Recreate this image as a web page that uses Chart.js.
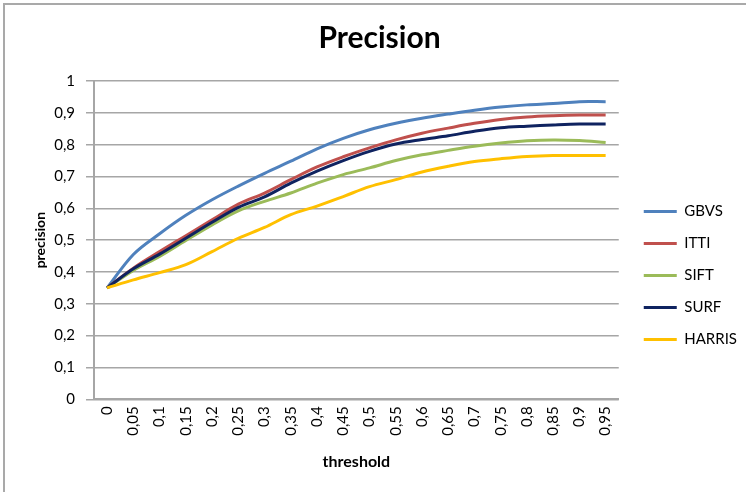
<!DOCTYPE html>
<html>
<head>
<meta charset="utf-8">
<script src="https://cdn.jsdelivr.net/npm/chart.js@4/dist/chart.umd.min.js"></script>
<style>
  html,body{margin:0;padding:0;background:#fff;}
  #wrap{position:relative;width:746px;height:492px;overflow:hidden;}
  #frame{position:absolute;left:3px;top:3px;width:760px;height:500px;border-left:2px solid #a9a9a9;border-top:2px solid #a9a9a9;pointer-events:none;}
  canvas{position:absolute;left:0;top:0;}
</style>
</head>
<body>
<div id="wrap">
  <canvas id="c" width="746" height="492"></canvas>
  <div id="frame"></div>
</div>
<script>
// thresholds on the x axis
const thresholds = ['0','0,05','0,1','0,15','0,2','0,25','0,3','0,35','0,4','0,45','0,5','0,55','0,6','0,65','0,7','0,75','0,8','0,85','0,9','0,95'];
const yTicks = ['0','0,1','0,2','0,3','0,4','0,5','0,6','0,7','0,8','0,9','1'];

const gbvs   = [0.35,0.455,0.52,0.578,0.627,0.67,0.71,0.748,0.787,0.82,0.847,0.867,0.883,0.896,0.908,0.918,0.925,0.929,0.935,0.935];
const itti   = [0.35,0.412,0.464,0.514,0.564,0.613,0.648,0.69,0.73,0.762,0.79,0.815,0.836,0.852,0.867,0.879,0.887,0.891,0.893,0.893];
const sift   = [0.35,0.405,0.449,0.499,0.548,0.592,0.622,0.648,0.679,0.706,0.727,0.75,0.768,0.782,0.795,0.805,0.812,0.815,0.813,0.807];
const surf   = [0.35,0.41,0.456,0.506,0.556,0.603,0.636,0.679,0.717,0.75,0.779,0.802,0.816,0.828,0.842,0.853,0.858,0.862,0.865,0.865];
const harris = [0.35,0.375,0.398,0.423,0.464,0.506,0.54,0.58,0.607,0.637,0.668,0.69,0.714,0.732,0.747,0.756,0.763,0.766,0.766,0.766];

const FONT = 'Lato, "Open Sans", sans-serif';
const GRID = '#a6a6a6';

function line(label, data, color, order){
  return {label, data, borderColor:color, backgroundColor:color, borderWidth:3,
    pointRadius:0, pointHoverRadius:0, tension:0.35, fill:false, order};
}

// push the legend a little away from the plot, like the Excel original
const legendGap = {id:'legendGap', afterLayout(chart){ if(chart.legend){ chart.legend.left += 8; chart.legend.right += 8; } }};

new Chart(document.getElementById('c'), {
  type:'line',
  data:{
    labels: thresholds,
    datasets:[
      line('GBVS', gbvs, '#4f81bd', 5),
      line('ITTI', itti, '#c0504d', 4),
      line('SIFT', sift, '#9bbb59', 3),
      line('SURF', surf, '#0f2360', 2),
      line('HARRIS', harris, '#ffc000', 1)
    ]
  },
  plugins:[legendGap],
  options:{
    responsive:false, animation:false,
    layout:{padding:{left:20, right:7, top:8, bottom:21}},
    plugins:{
      title:{display:true, text:'Precision', color:'#000',
        font:{family:FONT, size:30, weight:'bold'}, padding:{top:12, bottom:25}},
      legend:{position:'right', align:'center',
        title:{display:true, text:' ', font:{size:10}, padding:{top:0, bottom:60}},
        labels:{usePointStyle:true, pointStyle:'line', pointStyleWidth:33, padding:17,
          color:'#000', font:{family:FONT, size:15},
          sort:(a,b)=>a.datasetIndex-b.datasetIndex}},
      tooltip:{enabled:false}
    },
    scales:{
      x:{
        offset:true,
        grid:{display:false, drawTicks:false, offset:true},
        border:{color:GRID, width:2},
        ticks:{color:'#000', font:{family:FONT, size:15}, minRotation:90, maxRotation:90, padding:7, autoSkip:false},
        title:{display:true, text:'threshold', color:'#000', font:{family:FONT, size:16, weight:'bold'}, padding:{top:9, bottom:0}}
      },
      y:{
        min:0, max:1,
        afterFit: s => { s.width = 74; },
        grid:{color:GRID, lineWidth:1.5, tickLength:8},
        border:{color:GRID, width:2},
        ticks:{stepSize:0.1, color:'#000', font:{family:FONT, size:15}, padding:11,
          callback:(v,i)=>yTicks[i]},
        title:{display:true, text:'precision', color:'#000', font:{family:FONT, size:14, weight:'bold'}, padding:{top:12, bottom:0}}
      }
    }
  }
});
</script>
</body>
</html>
